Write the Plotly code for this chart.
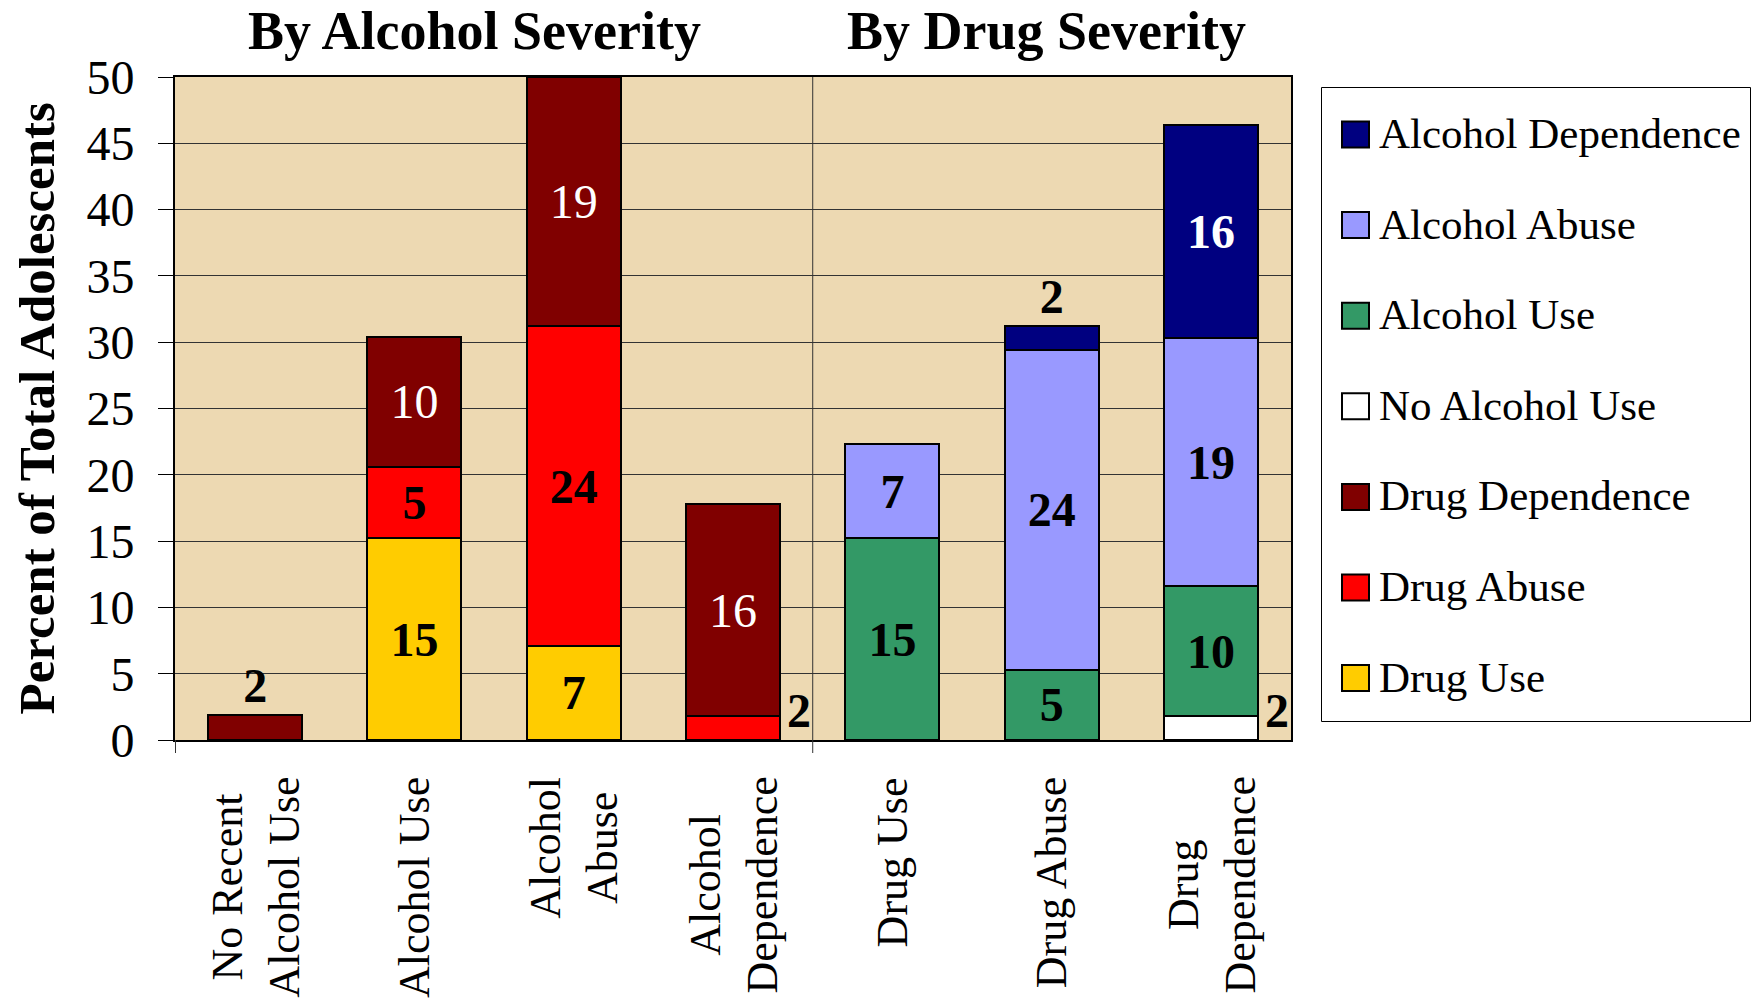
import plotly.graph_objects as go

FONT = "Liberation Serif"

# categories on the x axis
categories = ["No Recent Alcohol Use", "Alcohol Use", "Alcohol Abuse", "Alcohol Dependence",
              "Drug Use", "Drug Abuse", "Drug Dependence"]
tick_labels = ["No Recent<br>Alcohol Use", "Alcohol Use", "Alcohol<br>Abuse", "Alcohol<br>Dependence",
               "Drug Use", "Drug Abuse", "Drug<br>Dependence"]
group_titles = ["By Alcohol Severity", "By Drug Severity"]

# percent of total adolescents (stack segments, bottom to top)
drug_use = [None, 15.2, 7.1, None, None, None, None]
drug_abuse = [None, 5.4, 24.1, 1.8, None, None, None]
drug_dependence = [1.85, 9.8, 18.8, 16.0, None, None, None]
no_alcohol_use = [None, None, None, None, None, None, 1.8]
alcohol_use = [None, None, None, None, 15.2, 5.3, 9.8]
alcohol_abuse = [None, None, None, None, 7.1, 24.1, 18.7]
alcohol_dependence = [None, None, None, None, None, 1.85, 16.1]

series = [
    # name, values, colour, label colour inside, bold, text positions
    ("Drug Use", drug_use, "#FFCC00", "black", True, ["inside"] * 7),
    ("Drug Abuse", drug_abuse, "#FF0000", "black", True, ["inside", "inside", "inside", "none", "none", "none", "none"]),
    ("Drug Dependence", drug_dependence, "#800000", "white", False, ["outside", "inside", "inside", "inside", "none", "none", "none"]),
    ("No Alcohol Use", no_alcohol_use, "#FFFFFF", "black", True, ["none"] * 7),
    ("Alcohol Use", alcohol_use, "#339966", "black", True, ["inside"] * 7),
    ("Alcohol Abuse", alcohol_abuse, "#9999FF", "black", True, ["inside"] * 7),
    ("Alcohol Dependence", alcohol_dependence, "#000080", "white", True, ["none", "none", "none", "none", "none", "outside", "inside"]),
]
legend_order = ["Alcohol Dependence", "Alcohol Abuse", "Alcohol Use", "No Alcohol Use",
                "Drug Dependence", "Drug Abuse", "Drug Use"]
# small segments whose labels sit to the right of the bar
side_labels = [("Drug Abuse", "Alcohol Dependence"), ("No Alcohol Use", "Drug Dependence")]

# plot area in pixels
W, H = 1756, 1006
L, R, T, B = 175, 1291, 77, 740


def px(x):
    return (x - L) / (R - L)


def py(y):
    return (B - y) / (B - T)


fig = go.Figure()
for name, vals, color, incolor, bold, tpos in series:
    if bold:
        txt = [f"<b>{round(v)}</b>" if v is not None else "" for v in vals]
    else:
        txt = [f"{round(v)}" if v is not None else "" for v in vals]
    # outside labels are always black and bold
    txt = [f"<b>{round(v)}</b>" if p == "outside" else t for v, t, p in zip(vals, txt, tpos)]
    fig.add_trace(go.Bar(
        x=categories, y=vals, name=name, text=txt,
        textposition=tpos, textangle=0, constraintext="none",
        insidetextanchor="middle",
        insidetextfont=dict(family=FONT, size=48, color=incolor),
        outsidetextfont=dict(family=FONT, size=48, color="black"),
        marker=dict(color=color, line=dict(color="black", width=2)),
        showlegend=False, cliponaxis=True,
    ))

annotations = []
values = {s[0]: s[1] for s in series}
for sname, cat in side_labels:
    v = values[sname][categories.index(cat)]
    annotations.append(dict(x=cat, y=v, xref="x", yref="y", text=f"<b>{round(v)}</b>",
                            showarrow=False, xshift=66, yshift=6, yanchor="middle",
                            font=dict(family=FONT, size=48, color="black")))

# category labels, rotated with centred lines
for cat, lab in zip(categories, tick_labels):
    annotations.append(dict(x=cat, y=py(775), xref="x", yref="paper", text=lab,
                            textangle=-90, align="center", xanchor="center", yanchor="top",
                            showarrow=False, font=dict(family=FONT, size=44, color="black")))

# group titles
for title, xc in zip(group_titles, [474, 1046]):
    annotations.append(dict(x=px(xc), y=py(31), xref="paper", yref="paper", text=f"<b>{title}</b>",
                            showarrow=False, xanchor="center", yanchor="middle",
                            font=dict(family=FONT, size=54, color="black")))

# y axis title
annotations.append(dict(x=px(36), y=0.5, xref="paper", yref="paper",
                        text="<b>Percent of Total Adolescents</b>", textangle=-90,
                        showarrow=False, xanchor="center", yanchor="middle",
                        font=dict(family=FONT, size=51, color="black")))

shapes = [
    # divider between the two groups, continuing below the axis as a tick
    dict(type="line", xref="x", yref="paper", x0=3.5, x1=3.5, y0=py(753), y1=1,
         line=dict(color="#333333", width=1)),
    dict(type="line", xref="x", yref="paper", x0=-0.5, x1=-0.5, y0=py(753), y1=0,
         line=dict(color="#333333", width=1)),
]

# legend box
colors = {s[0]: s[2] for s in series}
shapes.append(dict(type="rect", xref="paper", yref="paper", x0=px(1321.5), x1=px(1750.5),
                   y0=py(721.5), y1=py(87.5), line=dict(color="black", width=1),
                   fillcolor="white", layer="below"))
for i, name in enumerate(legend_order):
    yc = 134.5 + i * 90.6
    shapes.append(dict(type="rect", xref="paper", yref="paper", x0=px(1342), x1=px(1369),
                       y0=py(yc + 13), y1=py(yc - 13), line=dict(color="black", width=2),
                       fillcolor=colors[name]))
    annotations.append(dict(x=px(1377), y=py(yc - 1), xref="paper", yref="paper", text=name,
                            showarrow=False, xanchor="left", yanchor="middle",
                            font=dict(family=FONT, size=43, color="black")))

fig.update_layout(
    width=W, height=H,
    barmode="stack", bargap=0.41,
    paper_bgcolor="white", plot_bgcolor="#EDD9B2",
    margin=dict(l=L, r=W - R, t=T, b=H - B, pad=0),
    font=dict(family=FONT, color="black"),
    annotations=annotations, shapes=shapes,
    showlegend=False,
)
fig.update_xaxes(type="category", showticklabels=False, ticks="", showgrid=False,
                 showline=True, linecolor="black", linewidth=2, mirror=True)
fig.update_yaxes(range=[0, 50], dtick=5, tick0=0, showgrid=True, gridcolor="#333333", gridwidth=1,
                 ticks="outside", ticklen=15, tickcolor="black", tickwidth=1,
                 ticklabelstandoff=14,
                 tickfont=dict(family=FONT, size=48, color="black"),
                 showline=True, linecolor="black", linewidth=2, mirror=True, zeroline=False)

# the page body margin would shift the whole figure by 8px
fig.write_html("out.html", config={"displayModeBar": False},
               post_script="document.body.style.margin='0';")
